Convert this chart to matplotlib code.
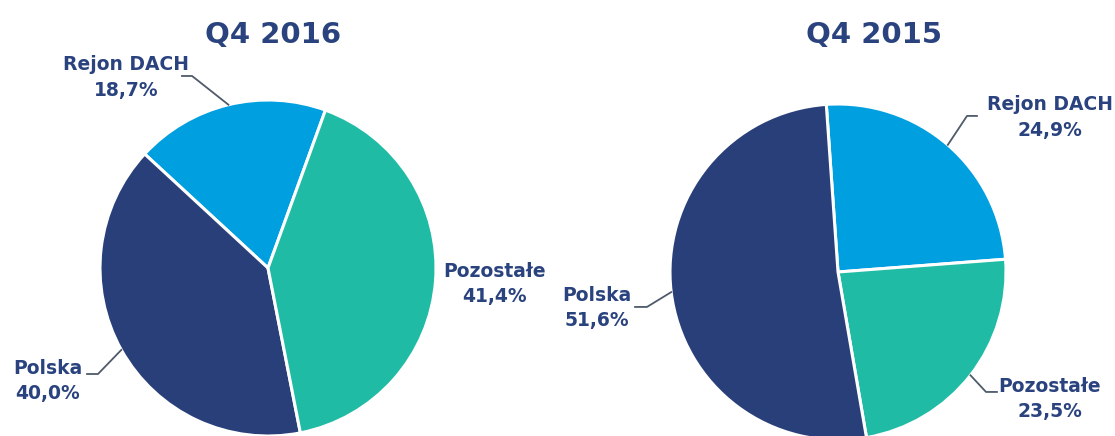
import numpy as np
import matplotlib
matplotlib.use('Agg')
import matplotlib.pyplot as plt

# data
categories = ['Rejon DACH', 'Pozostałe', 'Polska']
share_2016 = [18.7, 41.4, 40.0]
share_2015 = [24.9, 23.5, 51.6]
titles = ['Q4 2016', 'Q4 2015']

colors = {'Rejon DACH': '#009FE0', 'Pozostałe': '#20BBA5', 'Polska': '#283F7A'}
text_col = '#2A437F'
line_col = '#4F5A6A'

plt.rcParams['font.family'] = 'DejaVu Sans'

fig = plt.figure(figsize=(11.15, 4.36), dpi=100)

#%% pie settings (start angle, direction, label layout in radius units)
pies = [
    dict(vals=share_2016, title=titles[0], box=(100, 100), start=70, ccw=True,
         order=['Rejon DACH', 'Polska', 'Pozostałe'], title_x=273,
         text={'Rejon DACH': (-0.845, 1.134), 'Pozostałe': (1.351, -0.095), 'Polska': (-1.313, -0.673)},
         knee={'Rejon DACH': ((-0.452, 1.143), (-0.512, 1.143)),
               'Polska': ((-1.012, -0.631), (-1.077, -0.631))}),
    dict(vals=share_2015, title=titles[1], box=(670, 104), start=94, ccw=False,
         order=['Rejon DACH', 'Pozostałe', 'Polska'], title_x=874,
         text={'Rejon DACH': (1.259, 0.920), 'Pozostałe': (1.262, -0.756), 'Polska': (-1.438, -0.214)},
         knee={'Rejon DACH': ((0.768, 0.929), (0.827, 0.929)),
               'Pozostałe': ((0.881, -0.714), (0.946, -0.714)),
               'Polska': ((-1.137, -0.208), (-1.208, -0.208))}),
]

W, H = 1115, 436
R = 168

for p in pies:
    x0, y0 = p['box']
    ax = fig.add_axes([x0 / W, (H - y0 - 2 * R) / H, 2 * R / W, 2 * R / H])
    vals = [p['vals'][categories.index(c)] for c in p['order']]
    wedges, _ = ax.pie(vals, colors=[colors[c] for c in p['order']],
                       startangle=p['start'], counterclock=p['ccw'],
                       wedgeprops=dict(edgecolor='white', linewidth=2.2))
    for w in wedges:
        w.set_clip_on(False)
    ax.set_xlim(-1, 1)
    ax.set_ylim(-1, 1)
    ax.set_aspect('auto')
    ax.axis('off')

    for c, w, v in zip(p['order'], wedges, vals):
        tx, ty = p['text'][c]
        lab = c + '\n' + ('%.1f%%' % v).replace('.', ',')
        ax.text(tx, ty, lab, ha='center', va='center', multialignment='center',
                fontsize=13.5, fontweight='bold', color=text_col, linespacing=1.45)
        if c in p['knee']:
            mid = np.deg2rad((w.theta1 + w.theta2) / 2)
            k, e = p['knee'][c]
            ax.plot([np.cos(mid), k[0], e[0]], [np.sin(mid), k[1], e[1]],
                    color=line_col, lw=1.3, clip_on=False)

    fig.text(p['title_x'] / W, 1 - 43 / H, p['title'], ha='center', va='baseline',
             fontsize=21, fontweight='bold', color=text_col)

fig.savefig('out.png', dpi=100)
